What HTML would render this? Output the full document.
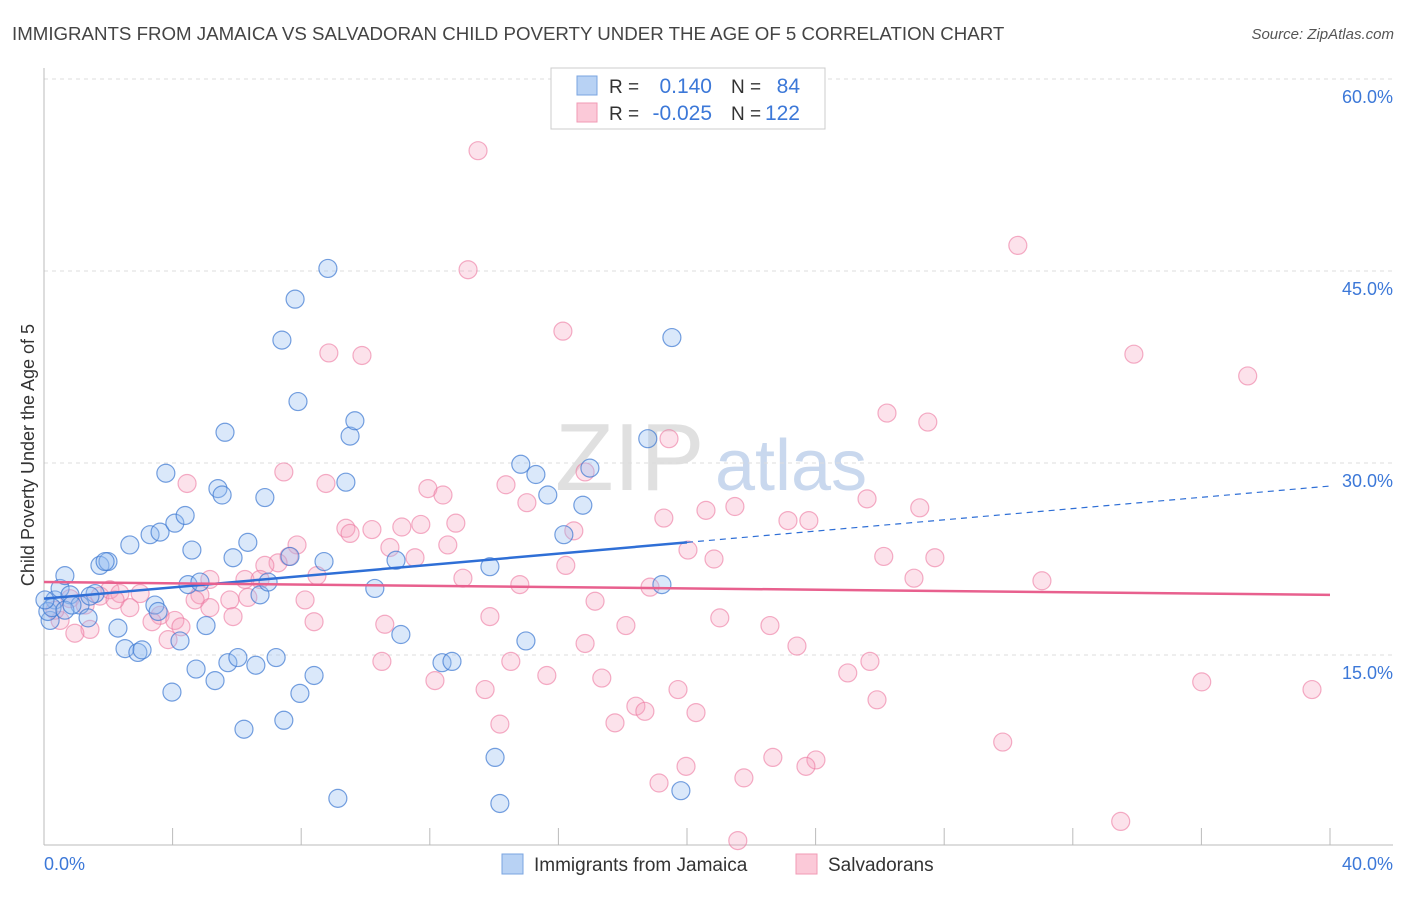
<!DOCTYPE html>
<html><head><meta charset="utf-8"><style>
body{margin:0;background:#fff;font-family:"Liberation Sans",sans-serif}
svg text{font-family:"Liberation Sans",sans-serif}
</style></head><body>
<svg id="chart" width="1406" height="892" xmlns="http://www.w3.org/2000/svg">
<text x="12" y="40" font-size="18.7" fill="#444">IMMIGRANTS FROM JAMAICA VS SALVADORAN CHILD POVERTY UNDER THE AGE OF 5 CORRELATION CHART</text>
<text x="1394" y="39" font-size="15" fill="#555" text-anchor="end" font-style="italic">Source: ZipAtlas.com</text>
<text x="555" y="490" font-size="96" fill="#e0e0e0" font-family="Liberation Serif">ZIP</text>
<text x="715" y="490" font-size="72" fill="#c9d8ee">atlas</text>
<g id="grid"></g>
<line x1="44" y1="68" x2="44" y2="845" stroke="#bbb"/>
<line x1="44" y1="845" x2="1393" y2="845" stroke="#bbb"/>
<g id="ticks"></g>
<text transform="translate(34,455) rotate(-90)" font-size="18" fill="#333" text-anchor="middle">Child Poverty Under the Age of 5</text>
<text x="44" y="870" font-size="18" fill="#3c78d8">0.0%</text>
<text x="1393" y="870" font-size="18" fill="#3c78d8" text-anchor="end">40.0%</text>
<g id="pts"></g>
<g id="fits"></g>
<g>
<rect x="551" y="68" width="274" height="61" fill="#fff" stroke="#ccc"/>
<rect x="577" y="76" width="20" height="19" fill="#b8d2f4" stroke="#7aa4e0"/>
<rect x="577" y="103" width="20" height="19" fill="#fbc9d8" stroke="#f09ab5"/>
<text x="609" y="93" font-size="19" fill="#333">R =</text>
<text x="712" y="93" font-size="21" fill="#3c78d8" text-anchor="end">0.140</text>
<text x="731" y="93" font-size="19" fill="#333">N =</text>
<text x="800" y="93" font-size="21" fill="#3c78d8" text-anchor="end">84</text>
<text x="609" y="120" font-size="19" fill="#333">R =</text>
<text x="712" y="120" font-size="21" fill="#3c78d8" text-anchor="end">-0.025</text>
<text x="731" y="120" font-size="19" fill="#333">N =</text>
<text x="800" y="120" font-size="21" fill="#3c78d8" text-anchor="end">122</text>
</g>
<rect x="502" y="854" width="21" height="20" fill="#b8d2f4" stroke="#7aa4e0"/>
<text x="534" y="871" font-size="19" fill="#333">Immigrants from Jamaica</text>
<rect x="796" y="854" width="21" height="20" fill="#fbc9d8" stroke="#f09ab5"/>
<text x="828" y="871" font-size="19" fill="#333">Salvadorans</text>
</svg>
<script>
const yTicks=[15,30,45,60];
const yTickLabels=["15.0%","30.0%","45.0%","60.0%"];
const xTicks=[0,4,8,12,16,20,24,28,32,36,40];
const jamX=[0.34,0.50,0.65,0.81,1.12,1.37,1.59,1.74,1.99,1.90,2.30,2.52,2.67,2.92,3.05,3.30,3.45,3.55,3.61,3.79,3.98,4.07,4.23,4.39,4.48,4.60,4.73,4.85,5.04,5.32,5.41,5.54,5.63,5.72,5.88,6.03,6.22,6.34,6.59,6.72,6.87,6.97,7.22,7.40,7.46,7.65,7.81,7.90,7.96,8.40,8.71,8.83,9.14,9.39,9.52,9.67,10.29,10.95,11.10,12.38,12.69,13.87,14.03,14.18,14.83,14.99,15.30,15.67,16.17,16.76,16.98,18.78,19.22,19.53,19.81,0.19,0.12,0.25,0.65,0.87,1.43,0.03];
const jamY=[19.3,20.2,21.2,19.7,18.9,17.9,19.8,22.0,22.3,22.3,17.1,15.5,23.6,15.2,15.4,24.4,18.9,18.4,24.6,29.2,12.1,25.3,16.1,25.9,20.5,23.2,13.9,20.7,17.3,13.0,28.0,27.5,32.4,14.4,22.6,14.8,9.2,23.8,14.2,19.7,27.3,20.7,14.8,39.6,9.9,22.7,42.8,34.8,12.0,13.4,22.3,45.2,3.8,28.5,32.1,33.3,20.2,22.4,16.6,14.4,14.5,21.9,7.0,3.4,29.9,16.1,29.1,27.5,24.4,26.7,29.6,31.9,20.5,39.8,4.4,17.7,18.4,18.7,18.5,18.9,19.6,19.3];
const salX=[13.50,30.29,13.19,16.14,8.86,9.89,33.90,37.44,26.22,27.49,19.44,4.45,7.46,8.77,11.94,12.41,14.37,15.02,16.83,25.60,27.24,21.49,20.59,19.28,23.14,23.79,12.81,11.72,9.39,11.13,10.20,16.48,9.52,7.87,10.76,12.56,20.03,26.12,27.71,20.84,7.62,7.28,6.87,11.54,16.23,31.04,27.06,13.03,14.80,8.49,5.16,6.25,6.72,18.85,2.99,1.74,2.05,2.36,4.85,5.78,6.34,8.12,17.14,2.67,3.61,4.07,5.88,13.87,8.40,10.60,18.10,22.58,21.02,3.36,4.26,3.86,1.43,0.96,0.50,0.34,23.42,16.83,25.69,10.51,14.52,25.00,15.64,17.35,12.16,13.72,19.72,36.01,39.44,25.91,18.41,18.69,20.28,14.18,17.76,29.82,22.67,24.01,23.70,19.97,19.13,21.77,33.49,21.58,5.16,4.70,0.81,1.28,2.21];
const salY=[54.4,47.0,45.1,40.3,38.6,38.4,38.5,36.8,33.9,33.2,31.9,28.4,29.3,28.4,28.0,27.5,28.3,26.9,29.3,27.2,26.5,26.6,26.3,25.7,25.5,25.5,25.3,25.2,24.9,25.0,24.8,24.7,24.5,23.6,23.4,23.6,23.2,22.7,22.6,22.5,22.7,22.2,22.0,22.6,22.0,20.8,21.0,21.0,20.5,21.2,20.9,20.9,20.9,20.3,19.8,19.6,20.1,19.8,19.7,19.3,19.5,19.3,19.2,18.7,18.1,17.7,18.0,18.0,17.6,17.4,17.3,17.3,17.9,17.6,17.2,16.2,17.0,16.7,17.7,18.5,15.7,15.9,14.5,14.5,14.5,13.6,13.4,13.2,13.0,12.3,12.3,12.9,12.3,11.5,11.0,10.6,10.5,9.6,9.7,8.2,7.0,6.8,6.3,6.3,5.0,5.4,2.0,0.5,18.7,19.3,19.4,18.9,19.3];
const jamFit=[19.4,0.22];
const salFit=[20.7,-0.025];
const NS="http://www.w3.org/2000/svg";
const X=v=>44+v/40*1286;
const Y=v=>847-v/15*192;
function mk(tag,attrs,parent){const e=document.createElementNS(NS,tag);for(const k in attrs)e.setAttribute(k,attrs[k]);document.getElementById(parent).appendChild(e);return e;}
yTicks.forEach((t,i)=>{
  const l=mk('line',{x1:44,x2:1393,y1:Y(t),y2:Y(t),stroke:'#ddd','stroke-dasharray':'4,4'},'grid');
  
  
  const tx=mk('text',{x:1393,y:Y(t)+24,'font-size':18,fill:'#3c78d8','text-anchor':'end'},'grid');
  tx.textContent=yTickLabels[i];
  
  
});
xTicks.forEach(t=>{
  const l=mk('line',{x1:X(t),x2:X(t),y1:828,y2:845,stroke:'#bbb'},'ticks');
  
  
});
salX.forEach((v,i)=>{
  const c=mk('circle',{cx:X(v),cy:Y(salY[i]),r:9,fill:'rgba(246,160,188,0.3)',stroke:'rgba(236,120,160,0.6)','stroke-width':1.2},'pts');
  
  
});
jamX.forEach((v,i)=>{
  const c=mk('circle',{cx:X(v),cy:Y(jamY[i]),r:9,fill:'rgba(150,190,240,0.35)',stroke:'rgba(60,120,210,0.7)','stroke-width':1.2},'pts');
  
  
});
const f=(fit,x)=>fit[0]+fit[1]*x;
let l1=mk('line',{x1:X(0),y1:Y(f(jamFit,0)),x2:X(20),y2:Y(f(jamFit,20)),stroke:'#2f6fd6','stroke-width':2.5},'fits');


let l2=mk('line',{x1:X(20),y1:Y(f(jamFit,20)),x2:X(40),y2:Y(f(jamFit,40)),stroke:'#2f6fd6','stroke-width':1.2,'stroke-dasharray':'6,5'},'fits');


let l3=mk('line',{x1:X(0),y1:Y(f(salFit,0)),x2:X(40),y2:Y(f(salFit,40)),stroke:'#e8608e','stroke-width':2.5},'fits');


</script>
</body></html>
